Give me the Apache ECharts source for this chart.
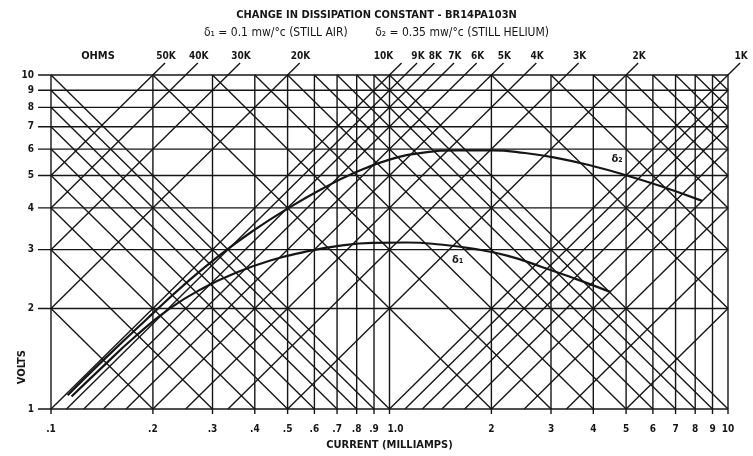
<!DOCTYPE html>
<html><head><meta charset="utf-8">
<script src="https://cdn.jsdelivr.net/npm/echarts@6/dist/echarts.min.js"></script>
<style>html,body{margin:0;padding:0;background:#fff}#c{width:753px;height:456px}</style>
</head><body><div id="c"></div>
<script>
// ---------- data ----------
const xTicks = [0.1,0.2,0.3,0.4,0.5,0.6,0.7,0.8,0.9,1,2,3,4,5,6,7,8,9,10];
const xTickLabels = ['.1','.2','.3','.4','.5','.6','.7','.8','.9','1.0','2','3','4','5','6','7','8','9','10'];
const yTicks = [1,2,3,4,5,6,7,8,9,10];
const yTickLabels = ['1','2','3','4','5','6','7','8','9','10'];
// constant-resistance lines (kilo-ohms), V = I(mA) * R(k)
const resistK = [50,40,30,20,10,9,8,7,6,5,4,3,2,1];
const resistLabels = ['50K','40K','30K','20K','10K','9K','8K','7K','6K','5K','4K','3K','2K','1K'];
const resistLowK = [0.9,0.8,0.7,0.6,0.5,0.4,0.3,0.2];   // unlabelled, end on right edge
// constant-power lines (milliwatts), V = P / I
const powerMw = [0.2,0.3,0.4,0.5,0.6,0.7,0.8,0.9,1,2,3,4,5,6,7,8,9,10,20,30,40,50,60,70,80,90];
// curve delta1 (0.1 mW/°C, still air)
const delta1I = [0.115,0.141,0.178,0.224,0.282,0.355,0.447,0.562,0.708,0.891,1.122,1.413,1.778,2.239,2.818,3.548,4.487];
const delta1V = [1.090,1.328,1.654,1.997,2.304,2.567,2.789,2.954,3.079,3.144,3.151,3.108,3.016,2.873,2.663,2.452,2.242];
// curve delta2 (0.35 mW/°C, still helium)
const delta2I = [0.112,0.141,0.2,0.251,0.316,0.398,0.501,0.631,0.794,1.0,1.259,1.585,1.995,2.512,3.162,3.981,5.012,6.31,8.39];
const delta2V = [1.10,1.384,1.934,2.385,2.894,3.432,3.985,4.556,5.111,5.579,5.855,5.950,5.950,5.842,5.630,5.340,5.006,4.651,4.198];

// ---------- styling ----------
const INK = '#161616';
const FONT = '"Liberation Sans Narrow","DejaVu Sans Condensed",Arial,sans-serif';
const X_MIN = 0.1, X_MAX = 10, Y_MIN = 1, Y_MAX = 10;
const LW = 1.4;
const labelNudge = {'10K': -19};
const tickNudge = {'1.0': 6};

const chart = echarts.init(document.getElementById('c'), null, {width:753, height:456});

const vGrid = xTicks.map(x => [x, Y_MIN, x, Y_MAX]);
const hGrid = yTicks.map(y => [X_MIN, y, X_MAX, y]);
function riseSeg(r) {
  const i0 = Math.max(X_MIN, Y_MIN / r), i1 = Math.min(X_MAX, Y_MAX / r);
  return [i0, i0 * r, i1, i1 * r];
}
const risingTop = resistK.map(riseSeg);
const risingLow = resistLowK.map(riseSeg);
const falling = powerMw.map(p => { const i0 = Math.max(X_MIN, p / Y_MAX); const i1 = Math.min(X_MAX, p / Y_MIN); return [i0, p / i0, i1, p / i1]; });

function segRenderer(ext0, ext1, lw) {
  return function (params, api) {
    const a = api.coord([api.value(0), api.value(1)]);
    const b = api.coord([api.value(2), api.value(3)]);
    const dx = b[0] - a[0], dy = b[1] - a[1], L = Math.hypot(dx, dy) || 1;
    const ux = dx / L, uy = dy / L;
    return {type:'line', silent:true,
      shape:{x1:a[0] - ux * ext0, y1:a[1] - uy * ext0, x2:b[0] + ux * ext1, y2:b[1] + uy * ext1},
      style:{stroke:INK, lineWidth:lw}};
  };
}
function txt(x, y, text, align, size, weight) {
  return {type:'text', silent:true, x:x, y:y,
    style:{text:text, fill:INK, font:(weight||'bold') + ' ' + (size||10) + 'px ' + FONT,
      align:align||'center', textAlign:align||'center', verticalAlign:'middle', textVerticalAlign:'middle'}};
}
function segSeries(data, e0, e1, lw) {
  return {type:'custom', coordinateSystem:'cartesian2d', data:data, clip:false, silent:true,
    encode:{x:[0,2], y:[1,3]}, renderItem:segRenderer(e0, e1, lw), z:2};
}
function curve(I, V) { return I.map((x, i) => [x, V[i]]); }

const option = {
  backgroundColor:'#fff',
  animation:false,
  title:{text:'CHANGE IN DISSIPATION CONSTANT - BR14PA103N',
    subtext:'δ\u2081 = 0.1 mw/°c (STILL AIR)        δ\u2082 = 0.35 mw/°c (STILL HELIUM)',
    left:'center', top:5, itemGap:6,
    textStyle:{fontFamily:FONT, fontSize:11, fontWeight:'bold', color:INK},
    subtextStyle:{fontFamily:FONT, fontSize:12, fontWeight:'normal', color:INK}},
  grid:{left:51, right:25, top:75, bottom:44},
  xAxis:{type:'log', logBase:10, min:X_MIN, max:X_MAX,
    axisLine:{show:false}, axisTick:{show:false}, axisLabel:{show:false}, splitLine:{show:false},
    name:'CURRENT (MILLIAMPS)', nameLocation:'middle', nameGap:31,
    nameTextStyle:{fontFamily:FONT, fontSize:11, fontWeight:'bold', color:INK}},
  yAxis:{type:'log', logBase:10, min:Y_MIN, max:Y_MAX,
    axisLine:{show:false}, axisTick:{show:false}, axisLabel:{show:false}, splitLine:{show:false}},
  graphic:[
    {type:'text', left:17, top:350, rotation:Math.PI/2, style:{text:'VOLTS', fill:INK, font:'bold 11px ' + FONT}},
    {type:'text', x:98, y:56, style:{text:'OHMS', fill:INK, font:'bold 11px ' + FONT, align:'center', textAlign:'center', verticalAlign:'middle', textVerticalAlign:'middle'}}
  ],
  series:[
    segSeries(vGrid, 5, 0, LW),
    segSeries(hGrid, 13, 0, LW),
    segSeries(risingTop, 0, 17, LW),
    segSeries(risingLow, 0, 0, LW),
    segSeries(falling, 0, 0, LW),
    {type:'custom', coordinateSystem:'cartesian2d', silent:true, clip:false,
      data:resistK.map((r, i) => [Y_MAX / r, Y_MAX, i]),
      renderItem:function (params, api) {
        const p = api.coord([api.value(0), api.value(1)]);
        const lab = resistLabels[api.value(2)];
        return txt(p[0] + 13 + (labelNudge[lab] || 0), p[1] - 19, lab, 'center');
      }},
    {type:'custom', coordinateSystem:'cartesian2d', silent:true, clip:false,
      data:xTicks.map((x, i) => [x, Y_MIN, i]),
      renderItem:function (params, api) {
        const p = api.coord([api.value(0), api.value(1)]);
        const lab = xTickLabels[api.value(2)];
        return txt(p[0] + (tickNudge[lab] || 0), p[1] + 20, lab, 'center');
      }},
    {type:'custom', coordinateSystem:'cartesian2d', silent:true, clip:false,
      data:yTicks.map((y, i) => [X_MIN, y, i]),
      renderItem:function (params, api) {
        const p = api.coord([api.value(0), api.value(1)]);
        return txt(p[0] - 17, p[1], yTickLabels[api.value(2)], 'right');
      }},
    {type:'line', name:'δ1', data:curve(delta1I, delta1V), smooth:0.5, showSymbol:false, symbol:'none',
      lineStyle:{color:INK, width:2.2}, z:5, silent:true,
      markPoint:{symbol:'circle', symbolSize:0, silent:true,
        label:{show:true, formatter:'δ\u2081', color:INK, fontFamily:FONT, fontSize:11, fontWeight:'bold'},
        data:[{coord:[1.59, 2.79]}]}},
    {type:'line', name:'δ2', data:curve(delta2I, delta2V), smooth:0.5, showSymbol:false, symbol:'none',
      lineStyle:{color:INK, width:2.2}, z:5, silent:true,
      markPoint:{symbol:'circle', symbolSize:0, silent:true,
        label:{show:true, formatter:'δ\u2082', color:INK, fontFamily:FONT, fontSize:11, fontWeight:'bold'},
        data:[{coord:[4.7, 5.6]}]}}
  ]
};
chart.setOption(option);
</script></body></html>
